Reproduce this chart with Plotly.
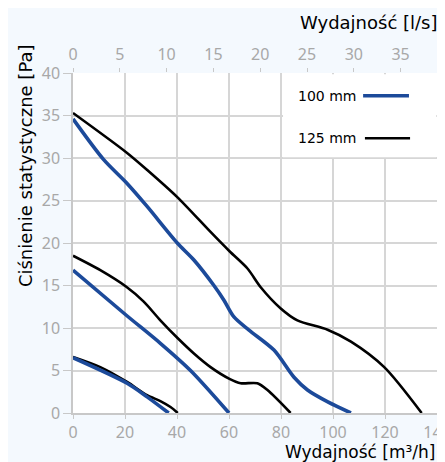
import plotly.graph_objects as go

# ---- data (x in m3/h, y in Pa) ----
b_hi_x = [0, 11.8, 20.8, 28.5, 40.1, 46.5, 54.2, 58.0, 61.9, 67.7, 77.3, 85, 90.2, 98, 106.9]
b_hi_y = [34.6, 29.8, 27.0, 24.3, 20.0, 18.0, 15.0, 13.3, 11.3, 9.75, 7.4, 4.2, 2.7, 1.3, 0]
k_hi_x = [0, 20.8, 28.5, 40.1, 52.9, 60.3, 67.1, 72.2, 79.9, 86.3, 97.9, 106.9, 119.7, 134.1]
k_hi_y = [35.3, 30.6, 28.6, 25.4, 21.3, 19.0, 17.0, 14.8, 12.3, 10.9, 9.8, 8.4, 5.4, 0]
b_mid_x = [0, 20.5, 33.6, 45.2, 60]
b_mid_y = [16.8, 11.5, 8.2, 5.0, 0]
k_mid_x = [0, 10.5, 20.5, 27.2, 33.6, 40.4, 46.5, 52.9, 60, 64.5, 70.9, 74.8, 83.7]
k_mid_y = [18.5, 16.8, 14.85, 13.1, 10.9, 8.76, 7.0, 5.4, 4.05, 3.5, 3.5, 2.7, 0]
b_lo_x = [0, 20.8, 28.5, 36.8]
b_lo_y = [6.5, 3.5, 1.9, 0]
k_lo_x = [0, 10.5, 20.8, 28.5, 33.6, 37.5, 40.3]
k_lo_y = [6.6, 5.4, 3.65, 2.1, 1.4, 0.7, 0]

series_names = ["100 mm", "125 mm"]
x_ticks = [0, 20, 40, 60, 80, 100, 120, 140]
y_ticks = [0, 5, 10, 15, 20, 25, 30, 35, 40]
top_ticks = [0, 5, 10, 15, 20, 25, 30, 35]
M3H_PER_LS = 3.6

BLUE = "#1c4a9a"
BLACK = "#000000"
GRID = "#d6d6d6"
TICK = "#a8a8a8"
FONT = "Noto Sans"
TFONT = "DejaVu Sans"

fig = go.Figure()
curves = [
    (k_hi_x, k_hi_y, BLACK, 2.6), (k_mid_x, k_mid_y, BLACK, 2.6), (k_lo_x, k_lo_y, BLACK, 2.6),
    (b_hi_x, b_hi_y, BLUE, 3.6), (b_mid_x, b_mid_y, BLUE, 3.6), (b_lo_x, b_lo_y, BLUE, 3.6),
]
for xs, ys, col, w in curves:
    fig.add_trace(go.Scatter(x=xs, y=ys, mode="lines", line=dict(color=col, width=w, shape="spline", smoothing=0.8),
                             showlegend=False, hoverinfo="skip"))

# helper trace for the top (l/s) axis
fig.add_trace(go.Scatter(x=[v / M3H_PER_LS for v in k_hi_x], y=k_hi_y, xaxis="x2", mode="lines",
                         line=dict(width=0), opacity=0, showlegend=False, hoverinfo="skip"))

fig.update_layout(
    template="none",
    width=445, height=462,
    margin=dict(l=65, r=16, t=65, b=57),
    paper_bgcolor="#f4f9fe",
    plot_bgcolor="#ffffff",
    font=dict(family=FONT, color="#000000"),
    xaxis=dict(range=[0, 140], tickvals=x_ticks, showgrid=True, gridcolor=GRID, gridwidth=1.5,
               showline=True, linecolor="#c8c8c8", linewidth=1.5, ticks="outside", ticklen=4,
               tickcolor="#c8c8c8", tickfont=dict(size=16, color=TICK, family=FONT), zeroline=False,
               automargin=False),
    xaxis2=dict(range=[0, 140 / M3H_PER_LS], tickvals=top_ticks, overlaying="x", side="top", anchor="y",
                showgrid=False, ticks="outside", ticklen=4, tickcolor="#c8c8c8", showline=False,
                ticklabelstandoff=2,
                tickfont=dict(size=16, color=TICK, family=FONT), zeroline=False, automargin=False),
    yaxis=dict(range=[0, 40], tickvals=y_ticks, showgrid=True, gridcolor=GRID, gridwidth=1.5,
               showline=True, linecolor="#c8c8c8", linewidth=1.5, ticks="outside", ticklen=8,
               tickcolor="#c8c8c8", tickfont=dict(size=16, color=TICK, family=FONT), zeroline=False,
               automargin=False),
)

# legend box and entries
fig.add_shape(type="rect", xref="paper", yref="paper", x0=0.577, x1=0.998, y0=0.752, y1=0.996,
              fillcolor="#ffffff", line=dict(width=0), layer="above")
fig.add_shape(type="line", xref="paper", yref="paper", x0=0.797, x1=0.923, y0=0.933, y1=0.933,
              line=dict(color=BLUE, width=3.6), layer="above")
fig.add_shape(type="line", xref="paper", yref="paper", x0=0.802, x1=0.926, y0=0.808, y1=0.808,
              line=dict(color=BLACK, width=2.6), layer="above")
fig.add_annotation(text=series_names[0], xref="paper", yref="paper", x=0.698, y=0.933, showarrow=False,
                   xanchor="center", yanchor="middle", font=dict(size=14, family=TFONT))
fig.add_annotation(text=series_names[1], xref="paper", yref="paper", x=0.698, y=0.808, showarrow=False,
                   xanchor="center", yanchor="middle", font=dict(size=14, family=TFONT))

# axis titles
fig.add_annotation(text="Ciśnienie statystyczne [Pa]", xref="paper", yref="paper", x=-0.132, y=0.729,
                   textangle=-90, xanchor="center", yanchor="middle", showarrow=False,
                   font=dict(size=18, family=TFONT))
fig.add_annotation(text="Wydajność [m³/h]", xref="paper", yref="paper", x=1.0, y=-0.115,
                   xanchor="right", yanchor="middle", showarrow=False, font=dict(size=17, family=TFONT))
fig.add_annotation(text="Wydajność [l/s]", xref="paper", yref="paper", x=1.008, y=1.15,
                   xanchor="right", yanchor="middle", showarrow=False, font=dict(size=18, family=TFONT))

fig.write_html("out.html")
